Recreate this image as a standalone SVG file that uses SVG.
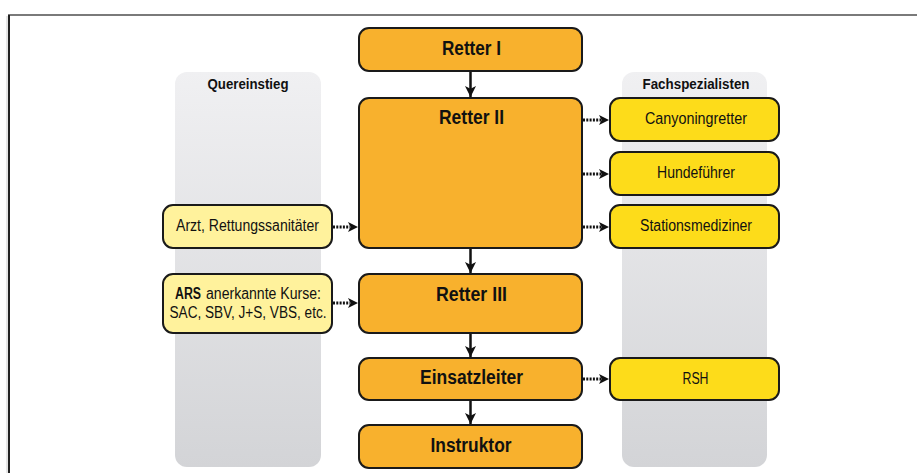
<svg xmlns="http://www.w3.org/2000/svg" width="917" height="473" viewBox="0 0 917 473">
<style>
.t{font-family:"Liberation Sans",Arial,sans-serif;text-anchor:middle;fill:#111}
.s{text-anchor:start}
.main{fill:#F8B12D;stroke:#1a1a1a;stroke-width:2}
.pale{fill:#FFF29C;stroke:#1a1a1a;stroke-width:2}
.spec{fill:#FDDC1A;stroke:#1a1a1a;stroke-width:2}
.big{font-size:20px;font-weight:bold}
.mid{font-size:16px}
.hdr{font-size:14px;font-weight:bold}
.solid{stroke:#111;stroke-width:2.5;fill:none}
.dot{stroke:#111;stroke-width:3;stroke-dasharray:2 1.3;fill:none}
</style>
<defs>
<linearGradient id="pg" x1="0" y1="0" x2="0" y2="1">
<stop offset="0" stop-color="#F0F0F2"/>
<stop offset="1" stop-color="#D3D4D7"/>
</linearGradient>
<marker id="ah" viewBox="0 0 10 10" refX="10" refY="5" markerWidth="11" markerHeight="11" markerUnits="userSpaceOnUse" orient="auto">
<path d="M0,0 L10,5 L0,10 L2.5,5 z" fill="#111"/>
</marker>
</defs>
<rect width="917" height="473" fill="#fff"/>
<line x1="8" y1="15" x2="917" y2="15" stroke="#7a7a7a" stroke-width="2"/>
<line x1="9" y1="15" x2="9" y2="473" stroke="#222" stroke-width="2"/>
<line x1="7" y1="16" x2="7" y2="473" stroke="#ccc" stroke-width="1"/>
<g id="panel-quereinstieg">
<rect x="175" y="72" width="146" height="395" rx="12" fill="url(#pg)"/>
<text class="t hdr" x="248" y="89" textLength="81" lengthAdjust="spacingAndGlyphs">Quereinstieg</text>
</g>
<g id="panel-fachspezialisten">
<rect x="622" y="72" width="145" height="395" rx="12" fill="url(#pg)"/>
<text class="t hdr" x="696" y="89" textLength="107" lengthAdjust="spacingAndGlyphs">Fachspezialisten</text>
</g>
<g id="connectors">
<line class="solid" x1="470.5" y1="71" x2="470.5" y2="97" marker-end="url(#ah)"/>
<line class="solid" x1="470.5" y1="248" x2="470.5" y2="273" marker-end="url(#ah)"/>
<line class="solid" x1="470.5" y1="333" x2="470.5" y2="357" marker-end="url(#ah)"/>
<line class="solid" x1="470.5" y1="400" x2="470.5" y2="424" marker-end="url(#ah)"/>
<line class="dot" x1="583" y1="120" x2="601" y2="120"/>
<path d="M599,115 L609,120 L599,125 L601.5,120 z" fill="#111"/>
<line class="dot" x1="583" y1="174" x2="601" y2="174"/>
<path d="M599,169 L609,174 L599,179 L601.5,174 z" fill="#111"/>
<line class="dot" x1="583" y1="227" x2="601" y2="227"/>
<path d="M599,222 L609,227 L599,232 L601.5,227 z" fill="#111"/>
<line class="dot" x1="583" y1="379" x2="601" y2="379"/>
<path d="M599,374 L609,379 L599,384 L601.5,379 z" fill="#111"/>
<line class="dot" x1="333" y1="227" x2="350" y2="227"/>
<path d="M348,222 L358,227 L348,232 L350.5,227 z" fill="#111"/>
<line class="dot" x1="333" y1="303" x2="350" y2="303"/>
<path d="M348,298 L358,303 L348,308 L350.5,303 z" fill="#111"/>
</g>
<g id="retter1">
<rect class="main" x="359" y="28" width="223" height="43" rx="10"/>
<text class="t big" x="471.5" y="55" textLength="59" lengthAdjust="spacingAndGlyphs">Retter I</text>
</g>
<g id="retter2">
<rect class="main" x="359" y="98" width="223" height="150" rx="10"/>
<text class="t big" x="471.5" y="124" textLength="65" lengthAdjust="spacingAndGlyphs">Retter II</text>
</g>
<g id="retter3">
<rect class="main" x="359" y="274" width="223" height="59" rx="10"/>
<text class="t big" x="471.5" y="301" textLength="71" lengthAdjust="spacingAndGlyphs">Retter III</text>
</g>
<g id="einsatzleiter">
<rect class="main" x="359" y="358" width="223" height="42" rx="10"/>
<text class="t big" x="471.5" y="384" textLength="103" lengthAdjust="spacingAndGlyphs">Einsatzleiter</text>
</g>
<g id="instruktor">
<rect class="main" x="359" y="425" width="223" height="43" rx="10"/>
<text class="t big" x="471" y="452" textLength="81" lengthAdjust="spacingAndGlyphs">Instruktor</text>
</g>
<g id="arzt">
<rect class="pale" x="163" y="205" width="169" height="43" rx="10"/>
<text class="t mid" x="247.5" y="231" textLength="143" lengthAdjust="spacingAndGlyphs">Arzt, Rettungssanitäter</text>
</g>
<g id="ars">
<rect class="pale" x="163" y="274" width="169" height="59" rx="10"/>
<text class="t s mid" x="175" y="299" font-weight="bold" textLength="26" lengthAdjust="spacingAndGlyphs">ARS</text>
<text class="t s mid" x="206" y="299" textLength="115" lengthAdjust="spacingAndGlyphs">anerkannte Kurse:</text>
<text class="t mid" x="248" y="318" textLength="157" lengthAdjust="spacingAndGlyphs">SAC, SBV, J+S, VBS, etc.</text>
</g>
<g id="canyoningretter">
<rect class="spec" x="610" y="98" width="169" height="43" rx="10"/>
<text class="t mid" x="696" y="124" textLength="102" lengthAdjust="spacingAndGlyphs">Canyoningretter</text>
</g>
<g id="hundefuehrer">
<rect class="spec" x="610" y="152" width="169" height="43" rx="10"/>
<text class="t mid" x="696" y="178" textLength="78" lengthAdjust="spacingAndGlyphs">Hundeführer</text>
</g>
<g id="stationsmediziner">
<rect class="spec" x="610" y="205" width="169" height="43" rx="10"/>
<text class="t mid" x="696" y="231" textLength="112" lengthAdjust="spacingAndGlyphs">Stationsmediziner</text>
</g>
<g id="rsh">
<rect class="spec" x="610" y="358" width="169" height="42" rx="10"/>
<text class="t mid" x="695.5" y="384" textLength="26" lengthAdjust="spacingAndGlyphs">RSH</text>
</g>
</svg>
